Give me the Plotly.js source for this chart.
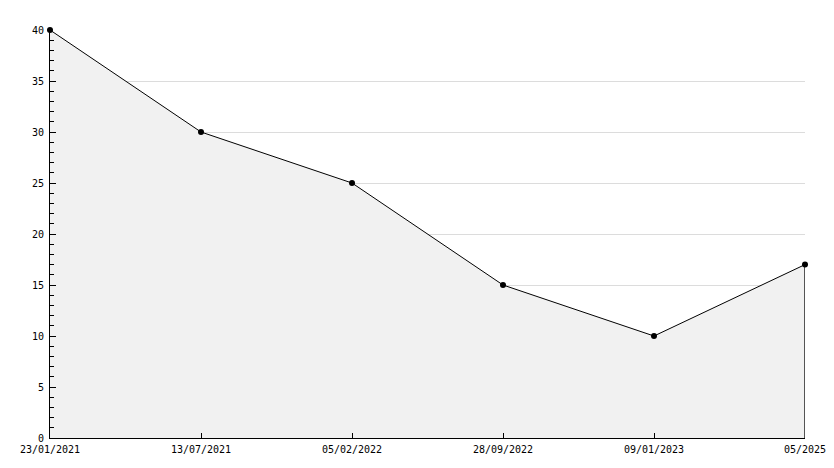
<!DOCTYPE html>
<html>
<head>
<meta charset="utf-8">
<script src="https://cdn.plot.ly/plotly-3.0.1.min.js"></script>
<style>html,body{margin:0;padding:0;background:#fff;}#chart{width:834px;height:468px;}</style>
</head>
<body>
<div id="chart"></div>
<script>
const dates = ["23/01/2021", "13/07/2021", "05/02/2022", "28/09/2022", "09/01/2023", "05/2025"];
const values = [40, 30, 25, 15, 10, 17];
const yTicks = [0, 5, 10, 15, 20, 25, 30, 35, 40];

const lastIdx = dates.length - 1;
const font = {family: "DejaVu Sans Mono, monospace", size: 10, color: "#000"};

const traces = [
  {
    x: dates, y: values, type: "scatter", mode: "lines+markers",
    fill: "tozeroy", fillcolor: "#f1f1f1",
    line: {color: "#000", width: 1},
    marker: {color: "#000", size: 6, symbol: "circle"},
    cliponaxis: false, hoverinfo: "x+y"
  },
  {
    x: [dates[lastIdx], dates[lastIdx]], y: [0, values[lastIdx]],
    type: "scatter", mode: "lines", line: {color: "#000", width: 1.3},
    cliponaxis: false, hoverinfo: "skip"
  }
];

const layout = {
  width: 834, height: 468,
  margin: {l: 50, r: 29, t: 30, b: 30},
  paper_bgcolor: "#fff", plot_bgcolor: "#fff",
  showlegend: false,
  font: font,
  xaxis: {
    type: "category", categoryorder: "array", categoryarray: dates,
    range: [0, lastIdx],
    showgrid: false, zeroline: false,
    showline: true, linecolor: "#000", linewidth: 1,
    ticks: "inside", ticklen: 5, tickcolor: "#000", tickwidth: 1,
    tickfont: font, ticklabelstandoff: 2
  },
  yaxis: {
    range: [0, 40], tickvals: yTicks, ticktext: yTicks.map(String),
    showgrid: true, gridcolor: "#dcdcdc", gridwidth: 1,
    zeroline: false,
    showline: true, linecolor: "#000", linewidth: 1,
    ticks: "inside", ticklen: 6, tickcolor: "#000", tickwidth: 1,
    tickfont: font, ticklabelstandoff: 3,
    minor: {ticks: "inside", dtick: 1, ticklen: 4, tickcolor: "#000", showgrid: false}
  }
};

Plotly.newPlot("chart", traces, layout, {displayModeBar: false, staticPlot: true});
</script>
</body>
</html>
